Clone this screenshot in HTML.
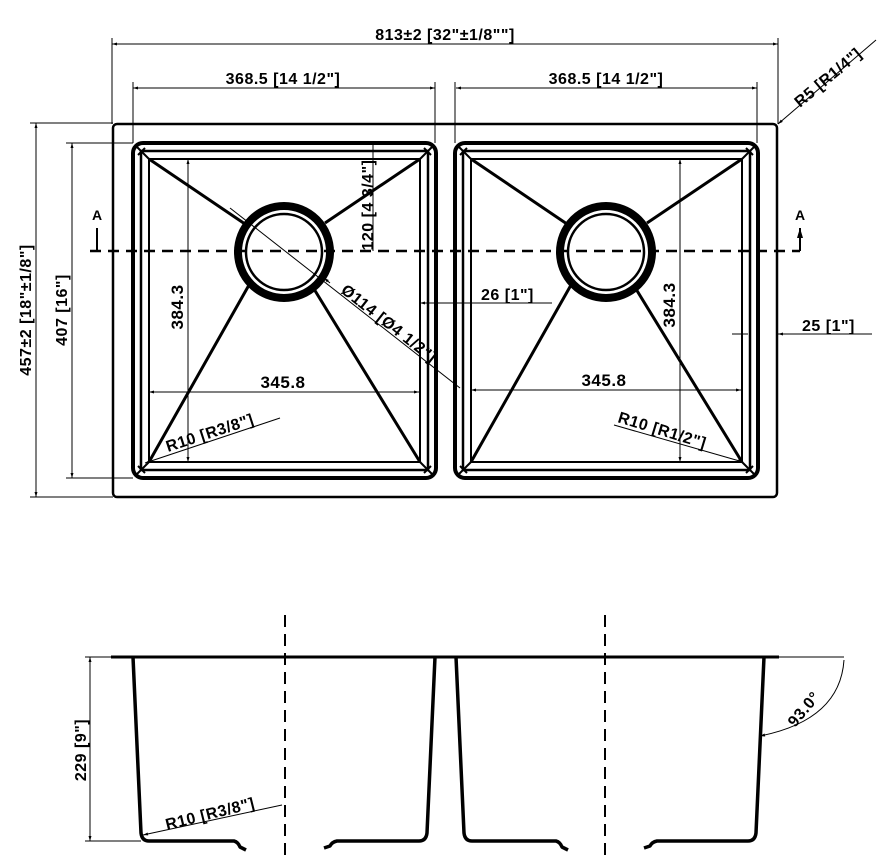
<!DOCTYPE html>
<html><head><meta charset="utf-8"><style>
html,body{margin:0;padding:0;background:#fff;}
svg{display:block;}
text{font-family:"Liberation Sans",sans-serif;font-weight:bold;font-size:16px;fill:#000;letter-spacing:0.5px;}
</style></head><body>
<svg width="889" height="860" viewBox="0 0 889 860" xmlns="http://www.w3.org/2000/svg">
<defs>
<marker id="ar" viewBox="0 0 10 10" refX="10" refY="5" markerWidth="8" markerHeight="5" orient="auto-start-reverse"><path d="M0,2 L10,5 L0,8 z" fill="#000"/></marker>
<g id="bowl">
  <rect x="0" y="0" width="303" height="335" rx="10" fill="none" stroke="#000" stroke-width="4"/>
  <rect x="8" y="8" width="287" height="319" fill="none" stroke="#000" stroke-width="2.5"/>
  <rect x="16" y="16" width="271" height="303" fill="none" stroke="#000" stroke-width="2"/>
  <path d="M3,3 L16,16 M300,3 L287,16 M3,332 L16,319 M300,332 L287,319" stroke="#000" stroke-width="2"/>
  <path d="M12,5 L5,12 M291,5 L298,12 M5,323 L12,330 M298,323 L291,330" stroke="#000" stroke-width="2"/>
  <circle cx="151" cy="109" r="46" fill="none" stroke="#000" stroke-width="8"/>
  <circle cx="151" cy="109" r="38" fill="none" stroke="#000" stroke-width="2.5"/>
  <path d="M16,16 L112,81 M287,16 L192,80 M16,319 L116,142 M287,319 L181,146" stroke="#000" stroke-width="3"/>
</g>
</defs>
<rect x="113" y="124" width="664" height="373" rx="4" fill="none" stroke="#000" stroke-width="2.5"/>
<use href="#bowl" x="133" y="143"/>
<use href="#bowl" x="455" y="143"/>
<line x1="90" y1="251" x2="800" y2="251" stroke="#000" stroke-width="2.5" stroke-dasharray="11,7"/>
<path d="M97,251 V228 M800,251 V228" stroke="#000" stroke-width="2" marker-end="url(#ar)"/>
<text x="92" y="220" style="font-size:14px">A</text>
<text x="795" y="220" style="font-size:14px">A</text>
<line x1="112" y1="44" x2="778" y2="44" stroke="#000" stroke-width="1" marker-start="url(#ar)" marker-end="url(#ar)"/>
<path d="M112,38 V124 M778,38 V124 M133,82 V143 M435,82 V143 M455,82 V143 M757,82 V143" stroke="#000" stroke-width="1"/>
<text x="445" y="40" text-anchor="middle">813±2 [32"±1/8""]</text>
<line x1="133" y1="88" x2="435" y2="88" stroke="#000" stroke-width="1" marker-start="url(#ar)" marker-end="url(#ar)"/>
<line x1="456" y1="88" x2="757" y2="88" stroke="#000" stroke-width="1" marker-start="url(#ar)" marker-end="url(#ar)"/>
<text x="283" y="84" text-anchor="middle">368.5 [14 1/2"]</text>
<text x="606" y="84" text-anchor="middle">368.5 [14 1/2"]</text>
<line x1="876" y1="40" x2="778" y2="124" stroke="#000" stroke-width="1" marker-end="url(#ar)"/>
<text transform="translate(800,108) rotate(-40)">R5 [R1/4"]</text>
<path d="M30,123 H113 M30,497 H113 M66,143 H133 M66,478 H133" stroke="#000" stroke-width="1"/>
<line x1="36" y1="123" x2="36" y2="497" stroke="#000" stroke-width="1" marker-start="url(#ar)" marker-end="url(#ar)"/>
<line x1="72" y1="143" x2="72" y2="478" stroke="#000" stroke-width="1" marker-start="url(#ar)" marker-end="url(#ar)"/>
<text transform="translate(31,310) rotate(-90)" text-anchor="middle">457±2 [18"±1/8"]</text>
<text transform="translate(67,310) rotate(-90)" text-anchor="middle">407 [16"]</text>
<line x1="188" y1="159" x2="188" y2="462" stroke="#000" stroke-width="1" marker-start="url(#ar)" marker-end="url(#ar)"/>
<text transform="translate(183,307) rotate(-90)" text-anchor="middle" style="font-size:17px">384.3</text>
<line x1="149" y1="392" x2="419" y2="392" stroke="#000" stroke-width="1" marker-start="url(#ar)" marker-end="url(#ar)"/>
<text x="283" y="388" text-anchor="middle" style="font-size:17px">345.8</text>
<line x1="680" y1="159" x2="680" y2="462" stroke="#000" stroke-width="1" marker-start="url(#ar)" marker-end="url(#ar)"/>
<text transform="translate(675,305) rotate(-90)" text-anchor="middle" style="font-size:17px">384.3</text>
<line x1="471" y1="390" x2="741" y2="390" stroke="#000" stroke-width="1" marker-start="url(#ar)" marker-end="url(#ar)"/>
<text x="604" y="386" text-anchor="middle" style="font-size:17px">345.8</text>
<line x1="373" y1="143" x2="373" y2="251" stroke="#000" stroke-width="1"/>
<text transform="translate(373,205) rotate(-90)" text-anchor="middle">120 [4 3/4"]</text>
<line x1="230" y1="208" x2="460" y2="388" stroke="#000" stroke-width="1"/>
<line x1="330" y1="283" x2="324" y2="278" stroke="#000" stroke-width="1" marker-end="url(#ar)"/>
<text transform="translate(340,292) rotate(38)">Ø114 [Ø4 1/2"]</text>
<line x1="420" y1="303" x2="465" y2="303" stroke="#000" stroke-width="1" marker-start="url(#ar)"/>
<line x1="465" y1="303" x2="552" y2="303" stroke="#000" stroke-width="1"/>
<text x="481" y="300">26 [1"]</text>
<line x1="732" y1="334" x2="748" y2="334" stroke="#000" stroke-width="1"/>
<line x1="872" y1="334" x2="778" y2="334" stroke="#000" stroke-width="1" marker-end="url(#ar)"/>
<text x="802" y="331">25 [1"]</text>
<line x1="145" y1="463" x2="280" y2="418" stroke="#000" stroke-width="1" marker-start="url(#ar)"/>
<text transform="translate(168,452) rotate(-18)">R10 [R3/8"]</text>
<line x1="614" y1="425" x2="743" y2="462" stroke="#000" stroke-width="1" marker-end="url(#ar)"/>
<text transform="translate(617,422) rotate(17)">R10 [R1/2"]</text>
<line x1="111" y1="657" x2="779" y2="657" stroke="#000" stroke-width="3"/>
<line x1="779" y1="657" x2="844" y2="657" stroke="#000" stroke-width="1"/>
<line x1="285" y1="615" x2="285" y2="860" stroke="#000" stroke-width="2" stroke-dasharray="12,7"/>
<line x1="605" y1="615" x2="605" y2="860" stroke="#000" stroke-width="2" stroke-dasharray="12,7"/>
<g fill="none" stroke="#000" stroke-width="3.5" stroke-linejoin="round">
<path d="M133,657 L141,833 Q142,841 149,841 L234,841 Q238,842 240,847 L246,850"/>
<path d="M435,657 L427,833 Q426,841 419,841 L337,841 Q332,842 330,846 L324,848"/>
<path d="M456,657 L464,833 Q465,841 472,841 L556,841 Q560,842 562,847 L568,850"/>
<path d="M764,657 L756,833 Q755,841 748,841 L657,841 Q652,842 650,846 L644,848"/>
</g>
<path d="M85,657 H133 M85,841 H141" stroke="#000" stroke-width="1"/>
<line x1="90" y1="657" x2="90" y2="841" stroke="#000" stroke-width="1" marker-start="url(#ar)" marker-end="url(#ar)"/>
<text transform="translate(86,750) rotate(-90)" text-anchor="middle">229 [9"]</text>
<line x1="143" y1="835" x2="282" y2="805" stroke="#000" stroke-width="1" marker-start="url(#ar)"/>
<text transform="translate(167,830) rotate(-14)">R10 [R3/8"]</text>
<path d="M844,660 Q840,720 760,736" fill="none" stroke="#000" stroke-width="1" marker-end="url(#ar)"/>
<text transform="translate(795,728) rotate(-50)">93.0°</text>
</svg>
</body></html>
